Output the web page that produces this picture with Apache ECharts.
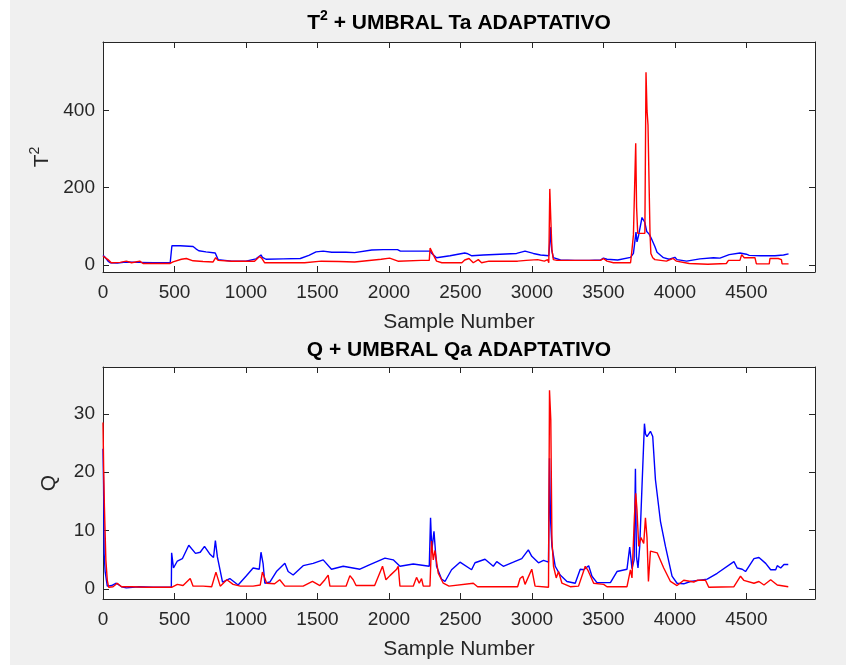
<!DOCTYPE html>
<html>
<head>
<meta charset="utf-8">
<script src="https://cdn.jsdelivr.net/npm/echarts@6/dist/echarts.min.js"></script>
<style>html,body{margin:0;padding:0;background:#fff}#c{width:846px;height:666px}</style>
</head>
<body>
<div id="c"></div>
<script>
// ---- Data ----
const xTicks = [0, 500, 1000, 1500, 2000, 2500, 3000, 3500, 4000, 4500];
const t2Ticks = [0, 200, 400];
const qTicks = [0, 10, 20, 30];

// T^2 adaptive threshold (blue)
const taX = [0,15,35,50,100,160,250,350,470,480,482,540,630,650,670,720,785,790,805,900,1000,1070,1105,1115,1140,1260,1380,1440,1490,1540,1600,1700,1760,1880,1960,2060,2080,2200,2287,2300,2333,2427,2530,2545,2580,2660,2777,2893,2952,3010,3060,3118,3125,3130,3138,3150,3200,3300,3400,3480,3500,3525,3600,3690,3710,3722,3728,3735,3745,3770,3790,3803,3820,3840,3860,3875,3920,3960,4000,4015,4082,4175,4270,4315,4380,4455,4500,4520,4600,4700,4760,4795];
const taY = [25,20,10,6,5,8,7,6,6,6,50,50,48,42,37,34,31,36,14,10,10,16,26,20,15,16,17,25,34,36,33,33,32,39,40,40,36,36,36,30,19,24,31,30,24,26,28,30,36,30,26,24,60,98,40,19,13,12,12,13,18,15,13,20,30,35,85,60,75,123,110,87,80,65,48,33,19,15,20,14,10,16,19,18,27,31,28,25,24,24,26,29];

// T^2 statistic (red)
const t2X = [0,10,35,58,120,163,200,257,280,400,467,490,548,583,630,700,770,788,805,900,1060,1095,1110,1130,1300,1410,1527,1650,1760,1946,2005,2063,2226,2282,2288,2298,2310,2333,2370,2510,2530,2560,2590,2625,2648,2700,2900,2960,3040,3087,3110,3118,3125,3132,3140,3150,3175,3480,3500,3525,3570,3690,3700,3710,3718,3726,3732,3740,3790,3798,3805,3812,3820,3826,3832,3845,3860,3941,3988,4011,4100,4230,4360,4375,4455,4467,4485,4560,4570,4660,4665,4723,4745,4750,4795];
const t2Y = [23,25,14,6,7,10,6,10,4,4,4,8,15,17,11,9,8,19,12,10,10,22,18,6,6,6,10,9,8,15,18,10,12,12,44,40,27,10,6,6,13,17,6,14,6,10,10,12,14,10,14,6,197,120,40,14,12,12,17,10,6,6,40,78,80,315,150,82,82,499,400,362,200,82,30,19,14,10,17,10,4,2,4,12,12,27,19,19,3,3,17,17,14,3,3];

// Q adaptive threshold (blue)
const qaX = [0,4,8,15,30,60,93,130,163,250,350,478,480,493,520,555,600,647,680,710,750,773,786,800,836,887,945,1000,1050,1093,1105,1120,1132,1167,1213,1272,1295,1330,1400,1470,1540,1598,1680,1797,1867,1972,2030,2077,2170,2282,2291,2300,2315,2333,2368,2392,2438,2497,2578,2602,2672,2730,2754,2800,2870,2929,2975,2999,3046,3081,3116,3123,3130,3140,3163,3198,3245,3303,3338,3362,3397,3420,3455,3549,3595,3665,3684,3700,3715,3724,3731,3742,3754,3770,3787,3795,3805,3829,3845,3864,3899,3934,3980,4015,4062,4109,4226,4296,4413,4436,4471,4494,4553,4588,4635,4670,4705,4716,4740,4763,4793];
const qaY = [24,18,6,3,0.5,0.6,1.0,0.4,0.2,0.4,0.3,0.3,6.2,3.6,4.8,5.2,7.5,6.1,6.3,7.3,5.9,5.4,8.3,5.5,1.2,1.8,0.7,2.2,3.6,3.4,6.3,4.3,1.0,1.2,3.0,4.4,3.0,2.4,4.0,4.4,5.0,3.4,3.9,3.4,4.2,5.3,5.0,3.9,4.3,3.9,12.2,6.6,9.9,3.9,1.7,1.3,3.3,4.6,3.3,4.5,5.1,3.9,4.7,3.9,4.6,5.2,6.7,5.6,4.5,4.9,4.6,22.4,12,7.3,3.9,2.4,1.3,1.0,3.4,3.3,4.0,2.2,1.1,1.1,3.0,3.4,7.2,3.5,5,20.6,5.6,3.6,7.3,17.6,28.3,26.5,26.1,27,26.1,18.7,11.6,7.3,2.2,1.0,0.9,1.3,1.7,2.7,4.7,3.6,3.4,3.0,5.2,5.4,4.4,3.3,3.3,4.0,3.6,4.2,4.2];

// Q statistic (red)
const qX = [0,5,10,20,30,40,70,100,130,200,300,400,480,520,560,610,630,700,760,790,820,866,910,960,1050,1100,1115,1145,1200,1236,1272,1400,1465,1517,1552,1575,1587,1700,1727,1750,1770,1900,1955,1979,2007,2054,2065,2077,2170,2193,2212,2228,2240,2287,2298,2310,2322,2345,2380,2420,2590,2620,2900,2917,2936,2952,2999,3022,3116,3123,3132,3140,3151,3170,3186,3210,3268,3326,3373,3390,3432,3502,3525,3665,3689,3700,3717,3726,3735,3747,3763,3782,3794,3805,3815,3829,3876,3922,3969,4015,4062,4132,4156,4214,4237,4413,4459,4482,4553,4588,4623,4670,4716,4793];
const qY = [28.5,20,14,5,1.5,0.3,0.4,1.0,0.4,0.4,0.3,0.3,0.3,0.8,0.6,1.8,0.5,0.5,0.4,2.9,0.5,1.6,0.8,0.5,0.5,0.7,2.9,1.0,0.9,1.6,0.5,0.5,1.3,0.6,1.6,2.4,0.5,0.5,2.3,1.6,0.6,0.6,3.9,1.6,2.3,3.4,3.9,0.5,0.5,2.0,1.0,1.8,0.5,0.5,8.2,5.0,6.6,2.7,1.0,0.5,1.0,0.4,0.4,1.8,2.2,0.8,3.4,0.5,0.3,34,29,8.4,3.9,1.9,3.0,1.0,0.4,0.5,3.9,3.3,1.0,0.8,0.4,0.4,3.3,1.9,12.4,16.4,13.5,7.3,8.8,7.8,12.2,8.8,1.3,6.5,6.2,3.6,1.3,0.6,1.5,1.2,1.5,1.5,0.3,0.4,2.2,1.5,1.0,1.3,0.7,1.6,0.7,0.4];

// ---- Chart ----
const zip = (xs, ys) => xs.map((x, i) => [x, ys[i]]);
const FONT = 'Liberation Sans, Arial, Helvetica, sans-serif';
const AX = '#262626';
const X_MIN = 0, X_MAX = 4980;
const plain = v => String(v);

function xAx(grid, pos, showLabels) {
  return {
    type: 'value', gridIndex: grid, position: pos, min: X_MIN, max: X_MAX,
    axisLine: { show: true, onZero: false, lineStyle: { color: AX, width: 1 } },
    axisTick: { show: true, inside: true, length: 6, customValues: xTicks, lineStyle: { color: AX } },
    axisLabel: { show: showLabels, customValues: xTicks, formatter: plain, color: AX, fontSize: 19, fontFamily: FONT, margin: 11 },
    splitLine: { show: false },
    name: showLabels ? 'Sample Number' : '', nameLocation: 'middle', nameGap: 40,
    nameTextStyle: { color: AX, fontSize: 21, fontFamily: FONT }
  };
}
function yAx(grid, pos, min, max, ticks, name, gap, rich) {
  const o = {
    type: 'value', gridIndex: grid, position: pos, min: min, max: max,
    axisLine: { show: true, onZero: false, lineStyle: { color: AX, width: 1 } },
    axisTick: { show: true, inside: true, length: 6, customValues: ticks, lineStyle: { color: AX } },
    axisLabel: { show: pos === 'left', customValues: ticks, formatter: plain, color: AX, fontSize: 19, fontFamily: FONT, margin: 8 },
    splitLine: { show: false }
  };
  if (pos === 'left') {
    o.name = name; o.nameLocation = 'middle'; o.nameGap = gap;
    o.nameTextStyle = { color: AX, fontSize: 21, fontFamily: FONT, rich: rich };
  }
  return o;
}

const chart = echarts.init(document.getElementById('c'), null, { renderer: 'canvas' });
chart.setOption({
  animation: false,
  backgroundColor: '#ffffff',
  graphic: [{ type: 'rect', left: 10, top: 0, z: -100, silent: true, shape: { width: 836, height: 665 }, style: { fill: '#f0f0f0' } }],
  title: [
    { text: '{b|T}{s|2}{b| + UMBRAL Ta ADAPTATIVO}', left: 459, top: 9, padding: 0, textAlign: 'center',
      textStyle: { rich: {
        b: { fontSize: 21, lineHeight: 28, fontWeight: 'bold', fontFamily: FONT, color: '#000' },
        s: { fontSize: 14, fontWeight: 'bold', fontFamily: FONT, color: '#000', verticalAlign: 'top' } } } },
    { text: 'Q + UMBRAL Qa ADAPTATIVO', left: 459, top: 340, padding: 0, textAlign: 'center',
      textStyle: { fontSize: 21, fontWeight: 'bold', fontFamily: FONT, color: '#000' } }
  ],
  grid: [
    { left: 103, top: 42, width: 712, height: 230, show: true, backgroundColor: '#ffffff', borderWidth: 0 },
    { left: 103, top: 367, width: 712, height: 232, show: true, backgroundColor: '#ffffff', borderWidth: 0 }
  ],
  xAxis: [xAx(0, 'bottom', true), xAx(0, 'top', false), xAx(1, 'bottom', true), xAx(1, 'top', false)],
  yAxis: [
    yAx(0, 'left', -18, 577, t2Ticks, '{t|T}{s|2}', 46, {
      t: { fontSize: 21, lineHeight: 28, fontFamily: FONT, color: AX },
      s: { fontSize: 14, fontFamily: FONT, color: AX, verticalAlign: 'top' } }),
    yAx(0, 'right', -18, 577, t2Ticks),
    yAx(1, 'left', -1.7, 38, qTicks, 'Q', 43),
    yAx(1, 'right', -1.7, 38, qTicks)
  ],
  series: [
    { type: 'line', xAxisIndex: 0, yAxisIndex: 0, data: zip(taX, taY), showSymbol: false, lineStyle: { color: '#0000ff', width: 1.4 }, itemStyle: { color: '#0000ff' } },
    { type: 'line', xAxisIndex: 0, yAxisIndex: 0, data: zip(t2X, t2Y), showSymbol: false, lineStyle: { color: '#ff0000', width: 1.4 }, itemStyle: { color: '#ff0000' } },
    { type: 'line', xAxisIndex: 2, yAxisIndex: 2, data: zip(qaX, qaY), showSymbol: false, lineStyle: { color: '#0000ff', width: 1.4 }, itemStyle: { color: '#0000ff' } },
    { type: 'line', xAxisIndex: 2, yAxisIndex: 2, data: zip(qX, qY), showSymbol: false, lineStyle: { color: '#ff0000', width: 1.4 }, itemStyle: { color: '#ff0000' } }
  ]
});
</script>
</body>
</html>
